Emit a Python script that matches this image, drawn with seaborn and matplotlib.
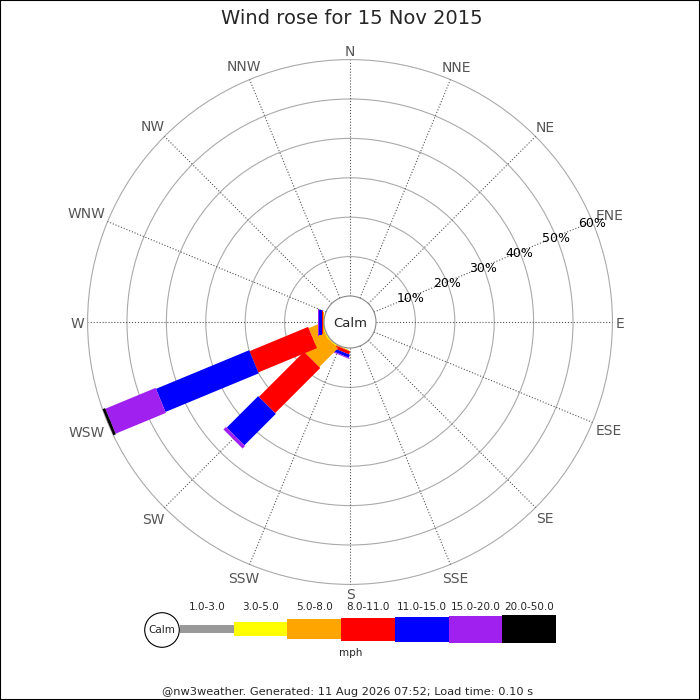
import numpy as np
import pandas as pd
import matplotlib.pyplot as plt
import seaborn as sns
from matplotlib.patches import Polygon, Circle, Rectangle

sns.set_style("white")
plt.rcParams['font.family'] = ['DejaVu Sans']

# ---- data (percent of time per direction and speed class, mph) ----
directions = ['N', 'NNE', 'NE', 'ENE', 'E', 'ESE', 'SE', 'SSE',
              'S', 'SSW', 'SW', 'WSW', 'W', 'WNW', 'NW', 'NNW']
speed_bins = ['1.0-3.0', '3.0-5.0', '5.0-8.0', '8.0-11.0',
              '11.0-15.0', '15.0-20.0', '20.0-50.0']
#          N  NNE NE ENE E ESE SE SSE S  SSW   SW    WSW   W    WNW NW NNW
pct_1_3  = [0, 0, 0, 0, 0, 0, 0, 0, 0, 0.0,  0.0,  0.0,  0.0, 0, 0, 0]
pct_3_5  = [0, 0, 0, 0, 0, 0, 0, 0, 0, 0.1,  0.3,  0.3,  0.1, 0, 0, 0]
pct_5_8  = [0, 0, 0, 0, 0, 0, 0, 0, 0, 0.2,  6.7,  3.4,  0.2, 0, 0, 0]
pct_8_11 = [0, 0, 0, 0, 0, 0, 0, 0, 0, 0.8, 16.2, 16.1,  0.2, 0, 0, 0]
pct_11_15 = [0, 0, 0, 0, 0, 0, 0, 0, 0, 0.8, 11.3, 25.6, 0.7, 0, 0, 0]
pct_15_20 = [0, 0, 0, 0, 0, 0, 0, 0, 0, 0.25, 0.9, 13.8, 0.2, 0, 0, 0]
pct_20_50 = [0, 0, 0, 0, 0, 0, 0, 0, 0, 0.0,  0.0,  0.7,  0.0, 0, 0, 0]
ring_pcts = [10, 20, 30, 40, 50, 60]

df = pd.DataFrame({b: v for b, v in zip(speed_bins, [pct_1_3, pct_3_5, pct_5_8, pct_8_11,
                                                     pct_11_15, pct_15_20, pct_20_50])},
                  index=directions)

colors = ['#999999', '#ffff00', '#ffa500', '#ff0000', '#0000ff', '#a020f0', '#000000']
leg_px = [8.3, 14.3, 20.3, 23, 25, 27, 28.3]   # leg thickness per class, px

S = 3.94          # px per percent
HUB = 26 / S      # calm circle radius in percent units
RMAX = 60
DY = 1.5 / S      # small nudge so caps sit centred

fig = plt.figure(figsize=(7, 7), dpi=100)
ax = fig.add_axes([0, 0, 1, 1])
ax.set_xlim(-350 / S, 350 / S)
ax.set_ylim(-378 / S, 322 / S)
ax.axis('off')
renderer = fig.canvas.get_renderer()

# grid rings and spokes
for p in ring_pcts:
    ax.add_patch(Circle((0, 0), HUB + p, fill=False, ec='#aaaaaa', lw=0.8, zorder=1))
for i, d in enumerate(directions):
    th = np.deg2rad(22.5 * i)
    ux, uy = np.sin(th), np.cos(th)
    ax.plot([HUB * ux, (HUB + RMAX) * ux], [HUB * uy, (HUB + RMAX) * uy],
            ls=':', color='#555555', lw=0.8, zorder=1)
    t = ax.text(0, 0, d, ha='center', va='center', fontsize=10, color='#555555')
    hw = t.get_window_extent(renderer).width / 2
    dist = (266 + hw * abs(ux) + 5.5 * abs(uy)) / S
    t.set_position((dist * ux, dist * uy - DY))

# percent labels along ENE spoke
th = np.deg2rad(67.5)
for p in ring_pcts:
    ax.text((HUB + p) * np.sin(th), (HUB + p) * np.cos(th) - DY, f'{p}%',
            ha='center', va='center', fontsize=9, color='black', zorder=3)

# wind legs: rectangles of constant width per speed class
for i, d in enumerate(directions):
    th = np.deg2rad(22.5 * i)
    ux, uy = np.sin(th), np.cos(th)
    vx, vy = np.cos(th), -np.sin(th)
    r0 = HUB
    for j, b in enumerate(speed_bins):
        val = df.loc[d, b]
        if val <= 0:
            continue
        r1 = r0 + val
        h = leg_px[j] / S / 2
        pts = [(r0 * ux + h * vx, r0 * uy + h * vy),
               (r1 * ux + h * vx, r1 * uy + h * vy),
               (r1 * ux - h * vx, r1 * uy - h * vy),
               (r0 * ux - h * vx, r0 * uy - h * vy)]
        ax.add_patch(Polygon(pts, closed=True, fc=colors[j], ec='none', zorder=2))
        r0 = r1

# calm circle
ax.add_patch(Circle((0, 0), HUB, fc='white', ec='#888888', lw=0.8, zorder=5))
ax.text(0, -DY, 'Calm', ha='center', va='center', fontsize=9.5, zorder=6)

# legend in pixel coordinates
lg = fig.add_axes([0, 0, 1, 1], facecolor='none')
lg.set_xlim(0, 700)
lg.set_ylim(700, 0)
lg.axis('off')
lg.add_patch(Circle((162, 630), 17.3, fc='white', ec='black', lw=0.8))
lg.text(162, 630, 'Calm', ha='center', va='center', fontsize=7.5)
bw = 53.7
for j, b in enumerate(speed_bins):
    x0 = 180 + j * bw
    lg.add_patch(Rectangle((x0, 629 - leg_px[j] / 2), bw, leg_px[j], fc=colors[j], ec='none'))
    lg.text(x0 + bw / 2, 607, b, ha='center', va='center', fontsize=7.5)
lg.text(351, 653, 'mph', ha='center', va='center', fontsize=7.5)

fig.text(0.503, 1 - 24 / 700, 'Wind rose for 15 Nov 2015', ha='center', va='baseline', fontsize=14)
fig.text(0.497, 1 - 692 / 700, '@nw3weather. Generated: 11 Aug 2026 07:52; Load time: 0.10 s',
         ha='center', va='center', fontsize=8.2)
fig.patches.append(Rectangle((0, 0), 1, 1, transform=fig.transFigure, fill=False,
                             ec='black', lw=1.5))

fig.savefig('out.png', dpi=100)
